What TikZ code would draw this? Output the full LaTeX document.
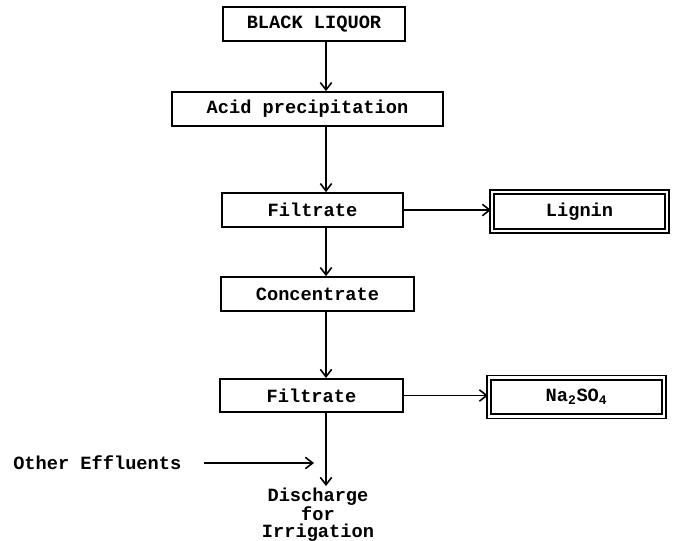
\documentclass[tikz,border=0pt]{standalone}
\usepackage{fontspec}
\setmonofont{Liberation Mono}
\usetikzlibrary{arrows.meta}
\begin{document}
\begin{tikzpicture}[x=0.75pt, y=-0.75pt,
  font=\ttfamily\bfseries\fontsize{14}{12.75}\selectfont,
  box/.style={draw, line width=1.3pt, inner sep=0pt, minimum height=25.5pt},
  product/.style={draw, line width=1.2pt, double, double distance=1.9pt, inner sep=0pt, minimum width=131.5pt, minimum height=29pt},
  flow/.style={-{Straight Barb[length=5.5pt,width=8.5pt]}, line width=1.2pt}]
\useasboundingbox (0,0) rectangle (677,540);
\coordinate (spine) at (326,0);
\node[box, minimum width=136.5pt] (liquor) at (314,24) {BLACK LIQUOR};
\node[box, minimum width=203pt] (acid) at (307.5,109) {Acid precipitation};
\node[box, minimum width=136pt] (filtrate1) at (312.5,210) {Filtrate};
\node[product] (lignin) at (579.5,211.5) {Lignin};
\node[box, minimum width=145pt] (concentrate) at (317.5,294) {Concentrate};
\node[box, minimum width=137pt, minimum height=25pt] (filtrate2) at (311.5,395.5) {Filtrate};
\node[product] (sodium) at (576.5,397) {Na\textsubscript{2}SO\textsubscript{4}};
\node[anchor=west, inner sep=0pt] (other) at (13,463) {Other Effluents};
\node[anchor=north, align=center, inner sep=1pt] (discharge) at (318,486) {Discharge\\for\\Irrigation};
\coordinate (merge) at (314,463);
\draw[flow] (liquor.south -| spine) -- (acid.north -| spine);
\draw[flow] (acid.south -| spine) -- (filtrate1.north -| spine);
\draw[flow] (filtrate1.east) -- (filtrate1.east -| lignin.west);
\draw[flow] (filtrate1.south -| spine) -- (concentrate.north -| spine);
\draw[flow] (concentrate.south -| spine) -- (filtrate2.north -| spine);
\draw[flow] (filtrate2.east) -- (filtrate2.east -| sodium.west);
\draw[flow] (filtrate2.south -| spine) -- (discharge.north -| spine);
\draw[flow] ([xshift=17pt]other.east) -- (merge);
\end{tikzpicture}
\end{document}
